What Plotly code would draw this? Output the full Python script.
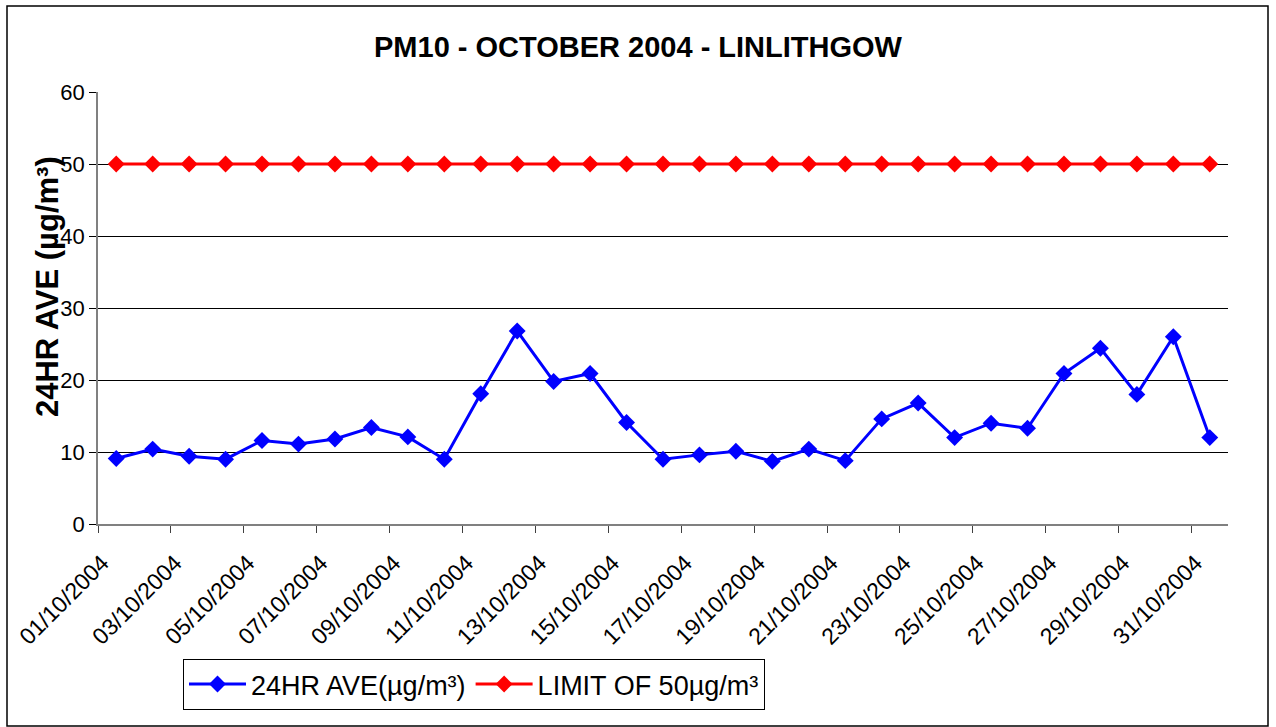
import plotly.graph_objects as go

dates = [f"{d:02d}/10/2004" for d in range(1, 32)]
pm10 = [9.1, 10.4, 9.4, 9.0, 11.6, 11.1, 11.8, 13.4, 12.1, 9.0,
        18.1, 26.8, 19.8, 20.9, 14.1, 9.0, 9.6, 10.1, 8.7, 10.4,
        8.8, 14.6, 16.8, 12.0, 14.0, 13.3, 20.9, 24.4, 18.0, 26.0, 12.0]
limit = [50] * 31
y_ticks = [0, 10, 20, 30, 40, 50, 60]

x_idx = [int(d[:2]) for d in dates]
label_vals = x_idx[::2]
label_text = dates[::2]
bound_vals = [v - 0.5 for v in label_vals]

FONT = "Arial, Liberation Sans, sans-serif"

fig = go.Figure()
fig.add_trace(go.Scatter(
    x=x_idx, y=pm10, mode="lines+markers", name="24HR AVE(µg/m³)",
    line=dict(color="#0000FF", width=3),
    marker=dict(symbol="diamond", size=13, color="#0000FF"),
))
fig.add_trace(go.Scatter(
    x=x_idx, y=limit, mode="lines+markers", name="LIMIT OF 50µg/m³",
    line=dict(color="#FF0000", width=3),
    marker=dict(symbol="diamond", size=13, color="#FF0000"),
))

fig.update_layout(
    width=1276, height=727,
    margin=dict(l=98, r=48, t=92, b=203),
    paper_bgcolor="white", plot_bgcolor="white",
    font=dict(family=FONT, color="black"),
    title=dict(text="<b>PM10 - OCTOBER 2004 - LINLITHGOW</b>",
               x=0.5, xref="container", xanchor="center",
               y=1 - 47 / 727, yref="container", yanchor="middle",
               font=dict(size=29, family=FONT, color="black")),
    xaxis=dict(range=[0.5, 31.5], tickmode="array", tickvals=bound_vals,
               ticktext=[""] * len(bound_vals), ticks="outside", ticklen=7,
               tickcolor="#404040", showgrid=False, zeroline=False,
               showline=True, linecolor="#808080", linewidth=1.5),
    xaxis2=dict(range=[0.5, 31.5], overlaying="x", anchor="y", side="bottom",
                tickmode="array", tickvals=label_vals, ticktext=label_text,
                tickangle=-45, ticks="", showgrid=False, zeroline=False,
                ticklabelshift=-14, ticklabelstandoff=20,
                showline=False, tickfont=dict(size=23, family=FONT, color="black")),
    yaxis=dict(range=[0, 60], tickmode="array", tickvals=y_ticks,
               ticks="outside", ticklen=7, tickcolor="black",
               showgrid=True, gridcolor="black", gridwidth=1,
               zeroline=False, showline=True, linecolor="#808080", linewidth=1.5,
               tickfont=dict(size=22, family=FONT, color="black")),
    showlegend=True,
    legend=dict(orientation="h", x=(183 - 98) / 1130, y=(524 - 659) / 432,
                xanchor="left", yanchor="top", itemwidth=57,
                bordercolor="black", borderwidth=1, bgcolor="white",
                font=dict(size=27, family=FONT, color="black")),
)

# invisible trace to activate xaxis2 (label axis)
fig.add_trace(go.Scatter(x=[x_idx[0]], y=[pm10[0]], xaxis="x2", mode="markers",
                         marker=dict(opacity=0), showlegend=False, hoverinfo="skip"))

fig.add_annotation(text="<b>24HR AVE (µg/m³)</b>", textangle=-90,
                   xref="paper", yref="paper", x=(47 - 98) / 1130, y=(524 - 287) / 432,
                   xanchor="center", yanchor="middle", showarrow=False,
                   font=dict(size=31, family=FONT, color="black"))

fig.add_shape(type="rect", xref="paper", yref="paper",
              x0=(7 - 98) / 1130, x1=(1268 - 98) / 1130,
              y0=(524 - 726) / 432, y1=(524 - 6) / 432,
              line=dict(color="black", width=1.5), fillcolor="rgba(0,0,0,0)", layer="below")

fig.write_html("out.html", config={"displayModeBar": False},
               post_script="document.body.style.margin='0';document.body.style.overflow='hidden';")
